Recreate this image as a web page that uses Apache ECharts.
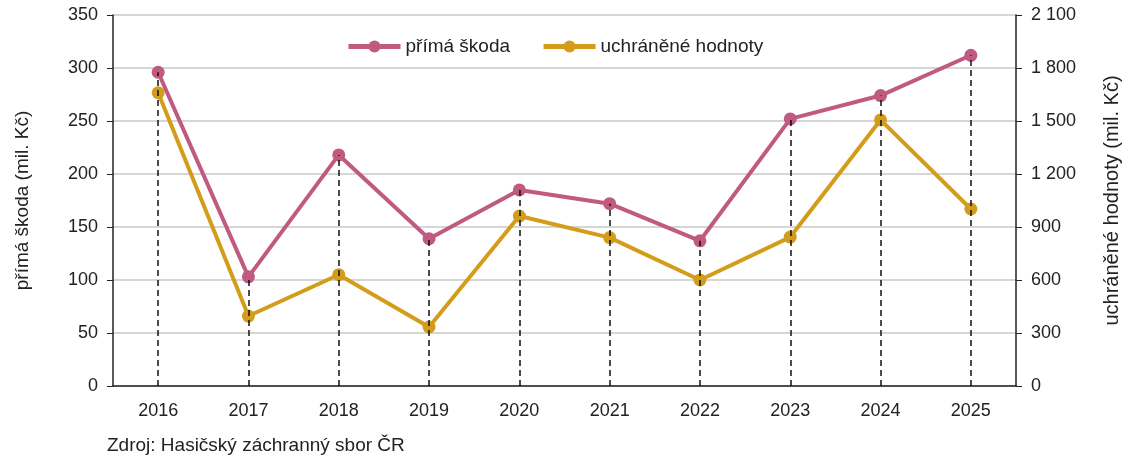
<!DOCTYPE html>
<html>
<head>
  <meta charset="utf-8">
  <title>Přímá škoda a uchráněné hodnoty</title>
  <script src="https://cdn.jsdelivr.net/npm/echarts@6/dist/echarts.min.js"></script>
  <style>
    body { margin: 0; background: #fff; }
    #chart { width: 1130px; height: 459px; }
  </style>
</head>
<body>
  <div id="chart"></div>
  <script>
      var years = ['2016', '2017', '2018', '2019', '2020', '2021', '2022', '2023', '2024', '2025'];
      var primaSkoda = [296, 103, 218, 139, 185, 172, 137, 252, 274, 312];
      var uchraneneHodnoty = [1660, 396, 630, 334, 962, 840, 600, 843, 1506, 1002];

      var pink = '#C05A80';
      var gold = '#D39D1B';
      var font = 'Liberation Sans, Arial, sans-serif';

      // svislé čárkované čáry od osy k bodům
      var drops = [];
      for (var i = 0; i < years.length; i++) {
          drops.push([{ coord: [years[i], 0] }, { coord: [years[i], primaSkoda[i]] }]);
      }

      var myChart = echarts.init(document.getElementById('chart'));
      myChart.setOption({
          animation: false,
          textStyle: { fontFamily: font },
          grid: { left: 113, right: 113, top: 15, bottom: 73 },
          legend: {
              data: ['přímá škoda', 'uchráněné hodnoty'],
              top: 32,
              left: 341,
              itemWidth: 52,
              itemHeight: 15,
              itemGap: 31,
              lineStyle: { width: 5 },
              textStyle: { fontSize: 19, color: '#222', fontFamily: font }
          },
          graphic: [{
              type: 'text',
              left: 107,
              top: 436,
              style: { text: 'Zdroj: Hasičský záchranný sbor ČR', fontSize: 19, fill: '#222', fontFamily: font }
          }],
          xAxis: {
              type: 'category',
              data: years,
              boundaryGap: true,
              axisLine: { lineStyle: { color: '#222', width: 1.5 } },
              axisTick: { show: false },
              axisLabel: { fontSize: 18, color: '#222', margin: 16 }
          },
          yAxis: [{
              type: 'value',
              min: 0, max: 350, interval: 50,
              name: 'přímá škoda (mil. Kč)',
              nameLocation: 'middle',
              nameGap: 81,
              nameTextStyle: { fontSize: 19, color: '#222' },
              axisLine: { show: true, lineStyle: { color: '#222', width: 1.5 } },
              axisTick: { show: true, length: 6, lineStyle: { color: '#222' } },
              axisLabel: { fontSize: 18, color: '#222', margin: 15 },
              splitLine: { lineStyle: { color: '#c8c8c8', width: 1.5 } }
          }, {
              type: 'value',
              min: 0, max: 2100, interval: 300,
              name: 'uchráněné hodnoty (mil. Kč)',
              nameLocation: 'middle',
              nameGap: 86,
              nameTextStyle: { fontSize: 20, color: '#222' },
              axisLine: { show: true, lineStyle: { color: '#222', width: 1.5 } },
              axisTick: { show: true, length: 6, lineStyle: { color: '#222' } },
              axisLabel: {
                  fontSize: 18, color: '#222', margin: 15,
                  formatter: function (v) { return String(v).replace(/\B(?=(\d{3})+(?!\d))/g, ' '); }
              },
              splitLine: { show: false }
          }],
          series: [
              {
                  name: 'drops',
                  type: 'line',
                  data: primaSkoda,
                  symbol: 'none',
                  lineStyle: { opacity: 0 },
                  silent: true,
                  z: 1,
                  markLine: {
                      silent: true,
                      symbol: 'none',
                      label: { show: false },
                      lineStyle: { color: '#111', type: [6, 4], width: 1.5 },
                      data: drops
                  }
              },
              {
                  name: 'přímá škoda',
                  type: 'line',
                  data: primaSkoda,
                  symbol: 'circle',
                  symbolSize: 13,
                  itemStyle: { color: pink },
                  lineStyle: { color: pink, width: 4 },
                  z: 3
              },
              {
                  name: 'uchráněné hodnoty',
                  type: 'line',
                  yAxisIndex: 1,
                  data: uchraneneHodnoty,
                  symbol: 'circle',
                  symbolSize: 13,
                  itemStyle: { color: gold },
                  lineStyle: { color: gold, width: 4 },
                  z: 4
              }
          ]
      });
  </script>
</body>
</html>
